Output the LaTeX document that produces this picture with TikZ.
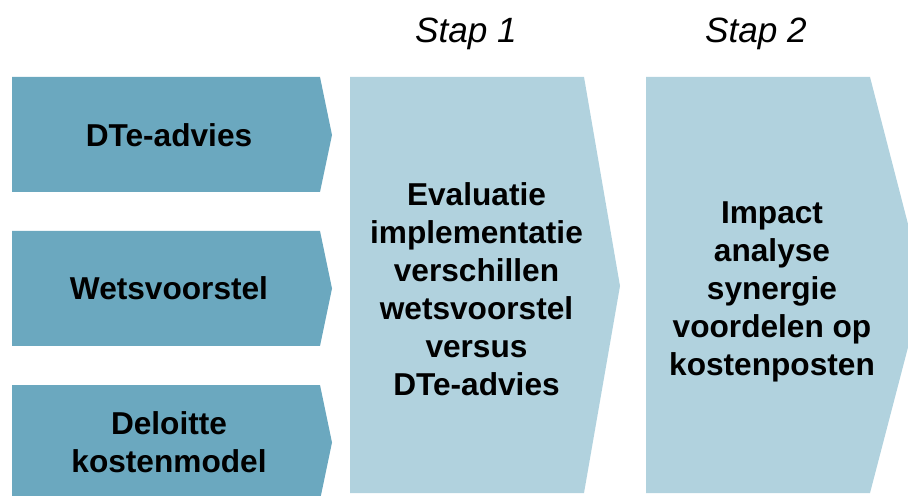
\documentclass[tikz,border=0pt]{standalone}
\usepackage{fontspec}
\setmainfont{Liberation Sans}
\usepackage{xcolor}
\usepackage{tikz}
\definecolor{StepDark}{HTML}{6BA8BF}
\definecolor{StepLight}{HTML}{B1D2DE}

\begin{document}
\begin{tikzpicture}[x=1cm,y=1cm,
  boxtext/.style={align=center,font=\fontsize{18}{21.6}\selectfont\bfseries},
  steptitle/.style={anchor=base,font=\fontsize{20}{24}\selectfont\itshape}]
\path[use as bounding box] (0,0) rectangle (18.16,9.90);
\clip (0,0) rectangle (18.16,9.90);
% inputs
\fill[StepDark] (0.24,8.36) -- (6.40,8.36) -- (6.64,7.20) -- (6.40,6.06) -- (0.24,6.06) -- cycle;
\node[boxtext] (dte) at (3.38,7.20) {DTe-advies};
\fill[StepDark] (0.24,5.28) -- (6.40,5.28) -- (6.64,4.13) -- (6.40,2.98) -- (0.24,2.98) -- cycle;
\node[boxtext] (wets) at (3.38,4.13) {Wetsvoorstel};
\fill[StepDark] (0.24,2.20) -- (6.40,2.20) -- (6.64,1.05) -- (6.40,-0.10) -- (0.24,-0.10) -- cycle;
\node[boxtext] (kosten) at (3.38,1.05) {Deloitte\\kostenmodel};
% step 1
\node[steptitle] (stap1) at (9.32,9.04) {Stap 1};
\fill[StepLight] (7.00,8.36) -- (11.68,8.36) -- (12.40,4.18) -- (11.68,0.04) -- (7.00,0.04) -- cycle;
\node[boxtext] (eval) at (9.53,4.12) {Evaluatie\\implementatie\\verschillen\\wetsvoorstel\\versus\\DTe-advies};
% step 2
\node[steptitle] (stap2) at (15.12,9.04) {Stap 2};
\fill[StepLight] (12.92,8.36) -- (17.40,8.36) -- (18.48,4.18) -- (17.40,0.04) -- (12.92,0.04) -- cycle;
\node[boxtext] (impact) at (15.44,4.06) {Impact\\analyse\\synergie\\voordelen op\\kostenposten};
\end{tikzpicture}
\end{document}
